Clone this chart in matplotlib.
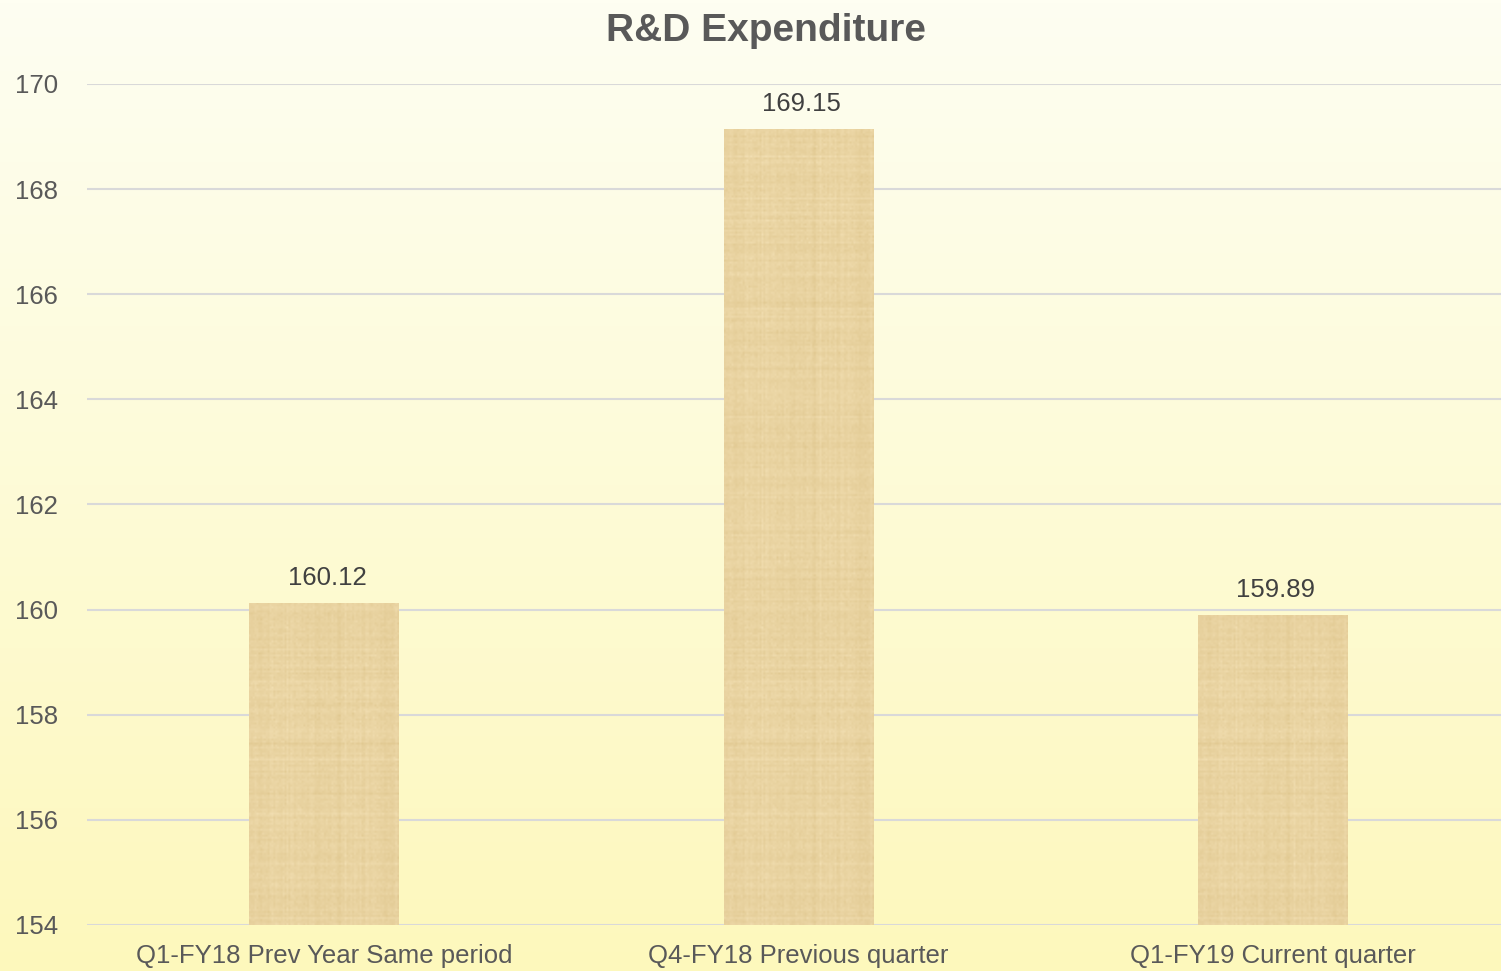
import numpy as np
import matplotlib
matplotlib.use("Agg")
import matplotlib.pyplot as plt
from matplotlib.colors import LinearSegmentedColormap, to_rgb
from matplotlib.transforms import offset_copy

categories = ["Q1-FY18 Prev Year Same period", "Q4-FY18 Previous quarter", "Q1-FY19 Current quarter"]
values = [160.12, 169.15, 159.89]
yticks = [154, 156, 158, 160, 162, 164, 166, 168, 170]

plt.rcParams['font.family'] = ['Liberation Sans', 'DejaVu Sans']
text_color = "#595959"

fig = plt.figure(figsize=(15.01, 9.71), dpi=100)

# background gradient, light cream at top to pale yellow at bottom
bg = fig.add_axes([0, 0, 1, 1], zorder=-10)
grad = np.linspace(0, 1, 256).reshape(-1, 1)
cmap = LinearSegmentedColormap.from_list("bg", ["#fefef2", "#fdf8bc"])
bg.imshow(grad, aspect="auto", cmap=cmap, extent=[0, 1, 0, 1])
bg.axis("off")

ax = fig.add_axes([0.058, 0.0474, 0.948, 0.8661])
ax.patch.set_alpha(0)
x = np.arange(len(categories))
bars = ax.bar(x, values, width=0.316, color="#e8cf9a", zorder=3)

# papyrus-like fibre texture, clipped to each bar
rng = np.random.default_rng(3)
h, w = 420, 80
tex = (rng.normal(0, 1, (h, 1)) * 0.5 + rng.normal(0, 1, (1, w)) * 0.5
       + rng.normal(0, 0.5, (h, w)))
tex = (tex - tex.min()) / (tex.max() - tex.min())
light, dark = np.array(to_rgb("#f3e0b4")), np.array(to_rgb("#dec58c"))
img = light[None, None, :] * (1 - tex[..., None]) + dark[None, None, :] * tex[..., None]
for b in bars:
    im = ax.imshow(img, extent=[b.get_x(), b.get_x() + b.get_width(), 154, 170],
                   aspect="auto", zorder=4, interpolation="bilinear")
    im.set_clip_path(b)

label_tr = offset_copy(ax.transData, fig=fig, x=3, y=0, units="dots")
for b, v in zip(bars, values):
    ax.text(b.get_x() + b.get_width() / 2, v + 0.25, f"{v:.2f}", ha="center", va="bottom",
            fontsize=18.5, color="#404040", zorder=5, transform=label_tr)

ax.set_xlim(-0.5, 2.5)
ax.set_ylim(154, 170)
ax.set_yticks(yticks)
ax.set_xticks(x)
ax.set_xticklabels(categories)
ax.tick_params(axis="both", length=0, labelsize=18.5, labelcolor=text_color)
ax.tick_params(axis="y", pad=21)
ax.tick_params(axis="x", pad=14)
ax.grid(axis="y", color="#d9d9d9", linewidth=1.5, zorder=0)
for s in ax.spines.values():
    s.set_visible(False)

fig.text(0.51, 0.968, "R&D Expenditure", ha="center", va="center", fontsize=28,
         fontweight="bold", color=text_color)

fig.savefig("out.png", dpi=100)
